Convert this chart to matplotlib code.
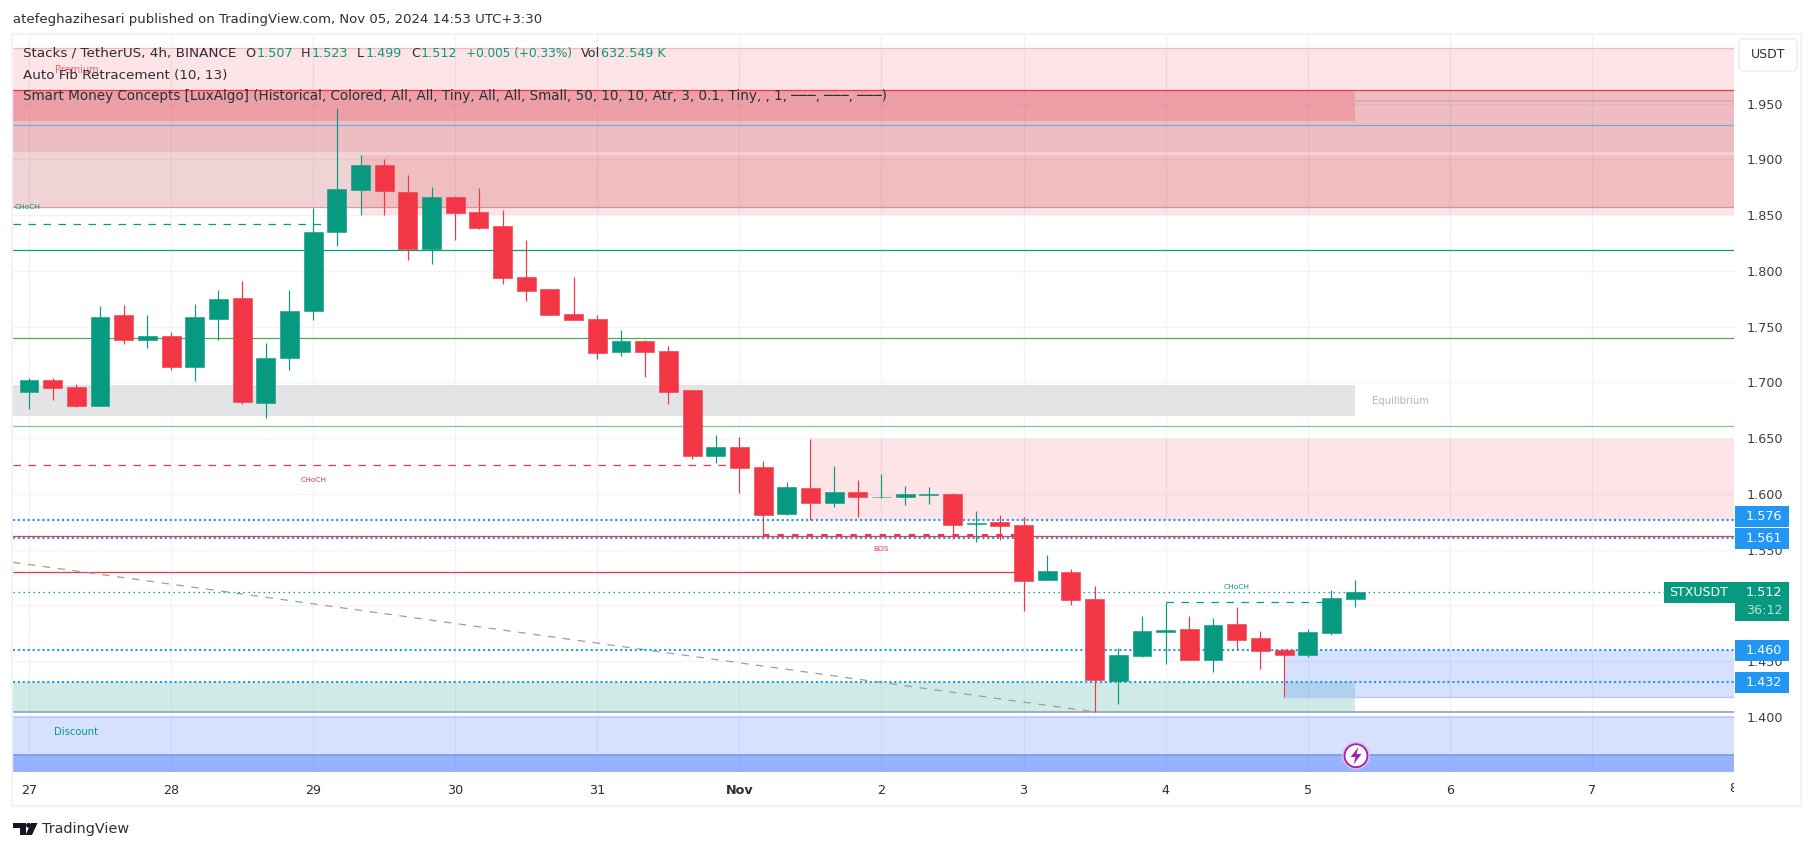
import matplotlib
matplotlib.use("Agg")
import matplotlib.pyplot as plt
from matplotlib.patches import Rectangle, FancyBboxPatch, Circle, Polygon

plt.rcParams['font.family'] = ['DejaVu Sans']

# candles, 4h bars from Oct 27
opens = [1.6917,1.7022,1.6959,1.6789,1.7605,1.7384,1.7417,1.7139,1.7569,1.7757,1.6816,1.7219,1.7641,1.8349,1.8726,1.8950,
         1.8708,1.8197,1.8663,1.8529,1.8403,1.7946,1.7838,1.7614,1.7569,1.7273,1.7372,1.7282,1.6932,1.6344,1.6422,1.6242,
         1.5821,1.6054,1.5919,1.6017,1.5971,1.5972,1.5994,1.5999,1.5734,1.5748,1.5721,1.5228,1.5300,1.5058,1.4323,1.4547,
         1.4762,1.4789,1.4511,1.4834,1.4708,1.4601,1.4556,1.4753,1.5058]
highs = [1.7037,1.7037,1.6986,1.7686,1.7695,1.7605,1.7452,1.7703,1.7829,1.7910,1.7354,1.7829,1.8565,1.9461,1.9040,1.9004,
         1.8861,1.8753,1.8672,1.8744,1.8547,1.8278,1.7838,1.7946,1.7605,1.7470,1.7381,1.7327,1.6932,1.6529,1.6511,1.6296,
         1.6108,1.6493,1.6250,1.6125,1.6179,1.6071,1.6062,1.6008,1.5847,1.5811,1.5793,1.5452,1.5327,1.5175,1.4619,1.4906,
         1.5028,1.4906,1.4888,1.4986,1.4771,1.4610,1.4789,1.5139,1.5229]
lows = [1.6762,1.6843,1.6777,1.6789,1.7345,1.7309,1.7115,1.7013,1.7381,1.6807,1.6684,1.7112,1.7560,1.8224,1.8502,1.8502,
        1.8098,1.8062,1.8278,1.8376,1.7883,1.7730,1.7605,1.7560,1.7210,1.7237,1.7049,1.6807,1.6314,1.6278,1.6009,1.5632,
        1.5812,1.5766,1.5883,1.5793,1.5966,1.5901,1.5910,1.5596,1.5569,1.5587,1.4950,1.5228,1.5004,1.4045,1.4116,1.4538,
        1.4475,1.4511,1.4404,1.4607,1.4430,1.4179,1.4538,1.4735,1.4986]
closes = [1.7022,1.6953,1.6789,1.7587,1.7384,1.7417,1.7139,1.7587,1.7748,1.6825,1.7219,1.7641,1.8349,1.8735,1.8950,1.8717,
          1.8197,1.8663,1.8520,1.8385,1.7937,1.7820,1.7605,1.7560,1.7264,1.7372,1.7273,1.6914,1.6344,1.6422,1.6236,1.5812,
          1.6063,1.5919,1.6017,1.5972,1.5975,1.5999,1.5999,1.5721,1.5739,1.5712,1.5219,1.5309,1.5049,1.4332,1.4556,1.4771,
          1.4780,1.4511,1.4825,1.4691,1.4592,1.4556,1.4762,1.5067,1.5121]

price_ticks = [1.40,1.45,1.50,1.55,1.60,1.65,1.70,1.75,1.80,1.85,1.90,1.95]
day_ticks = [0,6,12,18,24,30,36,42,48,54,60,66]
day_labels = ["27","28","29","30","31","Nov","2","3","4","5","6","7"]

blue_levels = [1.5766, 1.5608, 1.4600, 1.4314]
blue_labels = ["1.576", "1.561", "1.460", "1.432"]
last_price = 1.5118

UP = "#089981"
DOWN = "#f23645"
BLUE = "#2196f3"
INK = "#2a2e39"

X0, X1 = -0.675, 72.0
Y0, Y1 = 1.3509, 2.0116

fig = plt.figure(figsize=(18.14, 8.51), dpi=100, facecolor="white")
ax = fig.add_axes([13/1814, 1-771.7/851, (1734-13)/1814, (771.7-35)/851])
ax.set_xlim(X0, X1)
ax.set_ylim(Y0, Y1)
for s in ax.spines.values():
    s.set_visible(False)
ax.yaxis.tick_right()
ax.set_yticks(price_ticks)
ax.set_yticklabels([f"{p:.3f}" for p in price_ticks], fontsize=9.2, color="#3a3e4a")
ax.set_xticks(day_ticks)
ax.set_xticklabels(day_labels, fontsize=9.2, color=INK)
ax.get_xticklabels()[5].set_fontweight("bold")
ax.tick_params(length=0)
ax.tick_params(axis="y", pad=9)
ax.tick_params(axis="x", pad=9)
ax.grid(True, color="#f0f3fa", lw=1.0)
ax.set_axisbelow(True)

# zones
RIGHT = 72.0
ZONE_END = 56.0
ax.fill_between([X0, RIGHT], 1.9070, 1.9997, color=DOWN, alpha=0.134, lw=0, zorder=1)
ax.plot([X0, RIGHT], [1.9997, 1.9997], color="#f6b8bc", lw=0.9, zorder=1)
ax.fill_between([X0, RIGHT], 1.8571, 1.9620, color="#b4232d", alpha=0.2, lw=0, zorder=1)
ax.plot([X0, RIGHT], [1.8571, 1.8571], color="#dc9da2", lw=0.9, zorder=1)
ax.fill_between([14, RIGHT], 1.8502, 1.9040, color=DOWN, alpha=0.134, lw=0, zorder=1)
ax.fill_between([X0, ZONE_END], 1.9348, 1.9620, color=DOWN, alpha=0.22, lw=0, zorder=1)
ax.plot([X0, RIGHT], [1.9527, 1.9527], color="#e2a5aa", lw=1.3, zorder=1)
ax.fill_between([X0, ZONE_END], 1.6699, 1.6977, color="#e3e4e6", lw=0, zorder=1)
ax.fill_between([33, RIGHT], 1.5766, 1.6493, color=DOWN, alpha=0.134, lw=0, zorder=1)
ax.fill_between([X0, ZONE_END], 1.4042, 1.4314, color=UP, alpha=0.19, lw=0, zorder=1)
ax.fill_between([53, RIGHT], 1.4182, 1.4600, color="#2962ff", alpha=0.19, lw=0, zorder=1)
ax.plot([53, RIGHT], [1.4182, 1.4182], color="#b3c9fb", lw=1, zorder=1)
ax.fill_between([X0, RIGHT], Y0, 1.3997, color="#2962ff", alpha=0.19, lw=0, zorder=1)
ax.plot([X0, RIGHT], [1.3997, 1.3997], color="#b3c9f5", lw=1.1, zorder=1)
ax.fill_between([X0, RIGHT], Y0, 1.3656, color="#2962ff", alpha=0.36, lw=0, zorder=1)
ax.plot([X0, RIGHT], [1.3656, 1.3656], color="#7594e0", lw=1.1, zorder=1)
ax.plot([X0, RIGHT], [1.4042, 1.4042], color="#8a96c4", lw=1.1, zorder=1)

# solid levels
ax.plot([X0, RIGHT], [1.9620, 1.9620], color=DOWN, lw=0.9, zorder=2)
ax.plot([X0, RIGHT], [1.9306, 1.9306], color="#6ab0e4", lw=0.9, zorder=2)
ax.plot([X0, RIGHT], [1.8185, 1.8185], color=UP, lw=0.9, zorder=2)
ax.plot([X0, RIGHT], [1.7396, 1.7396], color="#4caf50", lw=0.9, zorder=2)
ax.plot([X0, RIGHT], [1.6607, 1.6607], color="#81c784", lw=0.9, zorder=2)
ax.plot([X0, RIGHT], [1.5626, 1.5626], color=DOWN, lw=0.9, zorder=2)
ax.plot([X0, 42], [1.5297, 1.5297], color=DOWN, lw=0.9, zorder=2)

# dashed structure lines
ax.plot([X0, 12.8], [1.8418, 1.8418], color=UP, lw=0.9, ls=(0, (6, 6)), zorder=2)
ax.plot([X0, 30], [1.6257, 1.6257], color=DOWN, lw=0.9, ls=(0, (6, 6)), zorder=2)
ax.plot([31, 42], [1.5635, 1.5635], color=DOWN, lw=1.5, ls=(0, (3, 4)), zorder=2)
ax.plot([48, 55], [1.5028, 1.5028], color=UP, lw=0.9, ls=(0, (6, 6)), zorder=2)
ax.plot([X0, 45], [1.5387, 1.4045], color="#9e9e9e", lw=0.9, ls=(0, (6, 6)), zorder=2)

# dotted levels
for lv in blue_levels:
    ax.plot([X0, RIGHT], [lv, lv], color=BLUE, lw=1.5, ls=(0, (1, 1.35)), zorder=2)
ax.plot([X0, RIGHT], [last_price, last_price], color=UP, lw=0.9, ls=(0, (1.2, 2.8)), zorder=2)

# candles
xs = list(range(len(opens)))
cols = [UP if c >= o else DOWN for o, c in zip(opens, closes)]
ax.vlines(xs, lows, highs, colors=cols, lw=0.85, zorder=3)
ax.bar(xs, [abs(c-o) for o, c in zip(opens, closes)], bottom=[min(o, c) for o, c in zip(opens, closes)],
       width=0.8, color=cols, edgecolor=cols, lw=0.4, zorder=4)

# labels inside the chart
ax.text(2.0, 1.9803, "Premium", color=DOWN, alpha=0.75, fontsize=7, ha="center", va="center", zorder=5)
ax.text(-0.06, 1.8571, "CHoCH", color=UP, fontsize=5.4, ha="center", va="center", zorder=5)
ax.text(12, 1.6128, "CHoCH", color=DOWN, fontsize=5.4, ha="center", va="center", zorder=5)
ax.text(36, 1.5510, "BOS", color=DOWN, fontsize=5.4, ha="center", va="center", zorder=5)
ax.text(51, 1.5162, "CHoCH", color=UP, fontsize=5.4, ha="center", va="center", zorder=5)
ax.text(57.9, 1.6833, "Equilibrium", color="#b2b5be", fontsize=7.2, ha="center", va="center", zorder=5)
ax.text(2.0, 1.3865, "Discount", color=UP, fontsize=7.2, ha="center", va="center", zorder=5)

# everything outside the plot in pixel coordinates
ov = fig.add_axes([0, 0, 1, 1], facecolor="none", zorder=10)
ov.set_xlim(0, 1814)
ov.set_ylim(851, 0)
ov.axis("off")

ov.add_patch(Rectangle((12, 34), 1789, 772, fill=False, ec="#f0f3fa", lw=1.6))
ov.text(13, 20, "atefeghazihesari published on TradingView.com, Nov 05, 2024 14:53 UTC+3:30",
        fontsize=9.5, color=INK, va="center")

# legend
ov.text(23, 53.5, "Stacks / TetherUS, 4h, BINANCE", fontsize=9.7, color=INK, va="center")
legend_parts = [(245.7, "O", "1.507", 10.5), (301, "H", "1.523", 10.7), (357, "L", "1.499", 9), (411, "C", "1.512", 10)]
for x, k, v, off in legend_parts:
    ov.text(x, 53.5, k, fontsize=9.2, color=INK, va="center")
    ov.text(x + off, 53.5, v, fontsize=9.2, color=UP, va="center")
ov.text(465.6, 53.5, "+0.005 (+0.33%)", fontsize=8.7, color=UP, va="center")
ov.text(581, 53.5, "Vol", fontsize=9.2, color=INK, va="center")
ov.text(601, 53.5, "632.549 K", fontsize=9.2, color=UP, va="center")
ov.text(23, 75, "Auto Fib Retracement (10, 13)", fontsize=9.7, color=INK, va="center")
ov.text(23, 96, "Smart Money Concepts [LuxAlgo] (Historical, Colored, All, All, Tiny, All, All, Small, 50, 10, 10, Atr, 3, 0.1, Tiny, , 1, ───, ───, ───)",
        fontsize=9.75, color=INK, va="center")

# USDT button
ov.add_patch(FancyBboxPatch((1742, 42), 52, 26, boxstyle="round,pad=3,rounding_size=5", fc="white", ec="#e8ebf2", lw=1))
ov.text(1768, 55, "USDT", fontsize=9, color=INK, ha="center", va="center")

# price tags
tag_tops = [506, 528, 640, 672]
for top, lab in zip(tag_tops, blue_labels):
    ov.add_patch(Rectangle((1734.5, top), 54, 21, fc=BLUE, ec="none"))
    ov.text(1764, top + 10.5, lab, fontsize=9.2, color="white", ha="center", va="center")
ov.add_patch(Rectangle((1664, 582), 70.5, 21, fc=UP, ec="none"))
ov.text(1699, 592.5, "STXUSDT", fontsize=9, color="white", ha="center", va="center")
ov.add_patch(Rectangle((1734.5, 582), 54, 39, fc=UP, ec="none"))
ov.text(1764, 592.5, "1.512", fontsize=9.2, color="white", ha="center", va="center")
ov.text(1764, 611, "36:12", fontsize=9.2, color="#b8e0d8", ha="center", va="center")

# the clipped 8 at the right end of the time axis
eight = ov.text(1733, 789, "8", fontsize=9.2, color=INK, ha="center", va="center")
eight.set_clip_path(Rectangle((0, 0), 1734, 851, transform=ov.transData))
eight.set_clip_on(True)

# lightning marker
ov.add_patch(Circle((1356, 755.7), 13.2, fc="white", ec="#e1bee7", lw=1.0))
ov.add_patch(Circle((1356, 755.7), 11.5, fc="white", ec="#9c27b0", lw=1.4))
ov.add_patch(Polygon([(1358.5, 747), (1350.5, 757), (1355.5, 757), (1353.5, 764.5), (1361.5, 754), (1356.5, 754)], fc="#9c27b0", ec="none"))

# TradingView logo
ov.add_patch(Polygon([(13, 823), (25.5, 823), (25.5, 835), (19.5, 835), (19.5, 828), (13, 828)], fc="#131722", ec="none"))
ov.add_patch(Circle((28.5, 825.3), 2.4, fc="#131722", ec="none"))
ov.add_patch(Polygon([(31, 823), (37.5, 823), (32, 835), (25.5, 835)], fc="#131722", ec="none"))
ov.text(42, 829.5, "TradingView", fontsize=10.4, color=INK, va="center")

fig.savefig("out.png", dpi=100)
